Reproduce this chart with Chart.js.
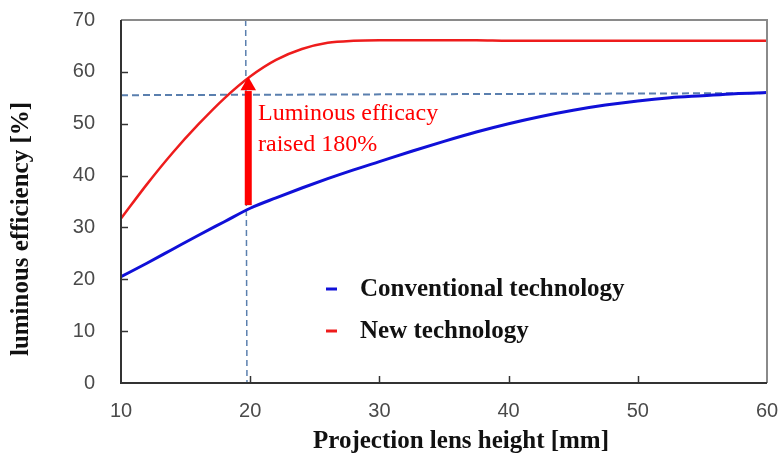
<!DOCTYPE html>
<html>
<head>
<meta charset="utf-8">
<script src="https://cdn.jsdelivr.net/npm/chart.js@4.4.1/dist/chart.umd.min.js"></script>
<style>
  body { margin: 0; background: #fff; }
  canvas { display: block; }
</style>
</head>
<body>
<canvas id="lensChart" width="784" height="464"></canvas>
<script>
// Projection lens height [mm]
const lensHeights = [10, 12, 14, 16, 18, 20, 22, 24, 26, 28, 30, 32.5, 35, 37.5, 40, 42.5, 45, 47.5, 50, 52.5, 55, 57.5, 60];
// luminous efficiency [%]
const conventional = [20.5, 23.1, 25.8, 28.5, 31.1, 33.7, 35.7, 37.6, 39.4, 41.1, 42.7, 44.7, 46.6, 48.4, 50.0, 51.4, 52.6, 53.6, 54.4, 55.0, 55.4, 55.8, 56.0];
const newTech = [31.7, 38.3, 44.4, 49.9, 54.9, 59.1, 62.3, 64.4, 65.6, 66.0, 66.1, 66.1, 66.1, 66.1, 66.0, 66.0, 66.0, 66.0, 66.0, 66.0, 66.0, 66.0, 66.0];

const seriesNames = ['Conventional technology', 'New technology'];
const xTicks = [10, 20, 30, 40, 50, 60];
const yTicks = [0, 10, 20, 30, 40, 50, 60, 70];

// dashed guide lines
const guideH = [{x: 10, y: 55.5}, {x: 60, y: 55.9}];
const guideV = [{x: 19.65, y: 70}, {x: 19.75, y: 0}];

// arrow: shaft from the conventional curve up to the new curve
const arrowShaft = [{x: 19.85, y: 34.3}, {x: 19.85, y: 56.3}];
const arrowHead = [{x: 19.85, y: 57.3}];

const noteLines = ['Luminous efficacy', 'raised 180%'];

const toPoints = (xs, ys) => xs.map((x, i) => ({x: x, y: ys[i]}));

const titleFont = 'bold 25px "Liberation Serif", "Times New Roman", serif';

// box, inward ticks, titles, note and legend
const decorations = {
    id: 'decorations',
    afterDraw(chart) {
        const ctx = chart.ctx;
        const a = chart.chartArea;
        const xs = chart.scales.x;
        const ys = chart.scales.y;
        ctx.save();

        // frame
        ctx.lineWidth = 2;
        ctx.strokeStyle = '#8a8a8a';
        ctx.beginPath();
        ctx.moveTo(a.left, a.top);
        ctx.lineTo(a.right, a.top);
        ctx.lineTo(a.right, a.bottom);
        ctx.stroke();
        ctx.strokeStyle = '#333';
        ctx.beginPath();
        ctx.moveTo(a.left, a.top);
        ctx.lineTo(a.left, a.bottom);
        ctx.lineTo(a.right, a.bottom);
        ctx.stroke();

        // inward tick marks
        ctx.lineWidth = 1.5;
        yTicks.slice(1, -1).forEach(v => {
            const py = Math.round(ys.getPixelForValue(v)) + 0.5;
            ctx.beginPath();
            ctx.moveTo(a.left, py);
            ctx.lineTo(a.left + 7, py);
            ctx.stroke();
        });
        xTicks.slice(1, -1).forEach(v => {
            const px = Math.round(xs.getPixelForValue(v)) + 0.5;
            ctx.beginPath();
            ctx.moveTo(px, a.bottom);
            ctx.lineTo(px, a.bottom - 7);
            ctx.stroke();
        });

        // axis titles
        ctx.fillStyle = '#111';
        ctx.font = titleFont;
        ctx.textAlign = 'center';
        ctx.textBaseline = 'middle';
        ctx.fillText('Projection lens height [mm]', 461, 442);
        ctx.save();
        ctx.translate(22, 229);
        ctx.rotate(-Math.PI / 2);
        ctx.fillText('luminous efficiency [%]', 0, 0);
        ctx.restore();

        // annotation
        ctx.fillStyle = '#ff0000';
        ctx.font = '24px "Liberation Serif", "Times New Roman", serif';
        ctx.textAlign = 'left';
        ctx.textBaseline = 'alphabetic';
        ctx.fillText(noteLines[0], 258, 120);
        ctx.fillText(noteLines[1], 258, 151);

        // legend
        const legendRows = [
            {label: seriesNames[0], color: chart.data.datasets[1].borderColor, y: 289},
            {label: seriesNames[1], color: chart.data.datasets[0].borderColor, y: 331}
        ];
        ctx.font = titleFont;
        ctx.fillStyle = '#111';
        ctx.textBaseline = 'middle';
        legendRows.forEach(r => {
            ctx.strokeStyle = r.color;
            ctx.lineWidth = 3;
            ctx.beginPath();
            ctx.moveTo(326, r.y);
            ctx.lineTo(337, r.y);
            ctx.stroke();
            ctx.fillText(r.label, 360, r.y + 1);
        });

        ctx.restore();
    }
};

// keep tick-label overflow from pushing the plot area around
const noOverflow = s => {
    s.paddingTop = 0;
    s.paddingBottom = 0;
    s.paddingLeft = 0;
    s.paddingRight = 0;
};

const ctx = document.getElementById('lensChart').getContext('2d');
const lensChart = new Chart(ctx, {
    type: 'line',
    data: {
        datasets: [{
            label: seriesNames[1],
            data: toPoints(lensHeights, newTech),
            borderColor: '#ee1c1c',
            borderWidth: 2.5,
            pointRadius: 0,
            cubicInterpolationMode: 'monotone',
            order: 1
        }, {
            label: seriesNames[0],
            data: toPoints(lensHeights, conventional),
            borderColor: '#1010d8',
            borderWidth: 3,
            pointRadius: 0,
            cubicInterpolationMode: 'monotone',
            order: 2
        }, {
            label: 'guide-h',
            data: guideH,
            borderColor: '#5a7fae',
            borderWidth: 2,
            borderDash: [7, 4],
            pointRadius: 0,
            order: 3
        }, {
            label: 'guide-v',
            data: guideV,
            borderColor: '#5a7fae',
            borderWidth: 1.5,
            borderDash: [6, 4],
            pointRadius: 0,
            order: 3
        }, {
            label: 'arrow',
            data: arrowShaft,
            borderColor: '#ff0000',
            borderWidth: 7,
            borderCapStyle: 'butt',
            pointRadius: 0,
            order: 0
        }, {
            label: 'arrow-head',
            data: arrowHead,
            showLine: false,
            pointStyle: 'triangle',
            pointRadius: 9,
            pointBorderWidth: 0,
            pointBackgroundColor: '#ff0000',
            pointBorderColor: '#ff0000',
            order: 0
        }]
    },
    options: {
        responsive: false,
        animation: false,
        events: [],
        layout: {
            padding: {top: 20, right: 17, left: 0, bottom: 0}
        },
        plugins: {
            legend: {display: false},
            tooltip: {enabled: false}
        },
        scales: {
            x: {
                type: 'linear',
                min: 10,
                max: 60,
                afterFit: s => { s.height = 81; noOverflow(s); },
                afterBuildTicks: s => { s.ticks = xTicks.map(v => ({value: v})); },
                grid: {display: false},
                border: {display: false},
                ticks: {
                    color: '#4a4a4a',
                    padding: 8,
                    font: {family: '"Liberation Sans", Arial, sans-serif', size: 20}
                }
            },
            y: {
                min: 0,
                max: 70,
                afterFit: s => { s.width = 121; noOverflow(s); },
                afterBuildTicks: s => { s.ticks = yTicks.map(v => ({value: v})); },
                grid: {display: false},
                border: {display: false},
                ticks: {
                    color: '#4a4a4a',
                    padding: 18,
                    font: {family: '"Liberation Sans", Arial, sans-serif', size: 20}
                }
            }
        }
    },
    plugins: [decorations]
});
</script>
</body>
</html>
